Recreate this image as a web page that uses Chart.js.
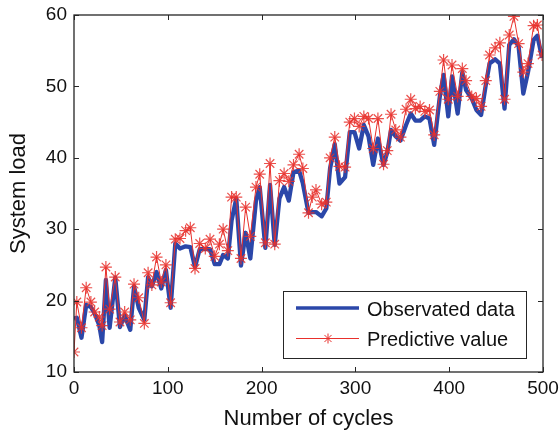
<!DOCTYPE html>
<html>
<head>
<meta charset="utf-8">
<script src="https://cdn.jsdelivr.net/npm/chart.js@4.4.1/dist/chart.umd.min.js"></script>
<style>
  body { margin: 0; background: #fff; }
  #wrap { width: 559px; height: 433px; }
</style>
</head>
<body>
<div id="wrap"><canvas id="myChart" width="559" height="433"></canvas></div>
<script>
// values
const cycles = [
  0, 3, 8, 13, 18, 22, 27, 30, 34, 38, 44, 49, 54, 60, 64, 69, 75, 79, 83, 88, 93, 98, 103, 108, 113, 119,
  124, 129, 134, 140, 145, 150, 155, 159, 164, 168, 173, 178, 183, 188, 194, 198, 204, 209, 214, 219, 224, 229, 234, 240, 244, 250,
  254, 258, 264, 269, 273, 278, 283, 289, 294, 299, 304, 309, 314, 319, 324, 330, 334, 338, 343, 348, 354, 359, 364, 369, 374,
  379, 384, 390, 394, 399, 403, 409, 414, 418, 424, 429, 434, 439, 443, 449, 454, 459, 464, 469, 474, 479, 484, 490, 494, 499
];
const observed = [
  17.5, 17.6, 14.8, 19.4, 19.1, 18.2, 16.5, 14.2, 22.9, 16.2, 23.2, 16.3, 17.9, 15.9, 22.0, 19.0, 17.3, 23.3, 22.0, 24.0, 21.7, 24.3, 19.0, 28.0, 27.3, 27.6,
  27.5, 24.7, 27.2, 27.2, 27.2, 25.1, 25.1, 26.4, 25.9, 31.2, 34.3, 24.9, 29.5, 25.9, 34.0, 35.9, 27.4, 36.2, 27.8, 34.3, 35.9, 34.0, 38.0, 38.2, 36.4, 32.3,
  32.4, 32.4, 31.8, 32.9, 38.5, 41.9, 36.4, 37.3, 43.6, 43.6, 41.3, 44.6, 43.0, 39.0, 42.7, 39.0, 40.8, 43.9, 43.0, 42.4, 44.6, 46.2, 45.2, 45.2, 45.8,
  45.5, 41.8, 48.6, 51.6, 45.8, 51.4, 46.2, 52.0, 49.5, 48.3, 46.7, 46.0, 50.2, 53.2, 53.8, 53.2, 46.9, 55.8, 56.6, 55.6, 49.0, 52.0, 56.5, 57.1, 54.0
];
const predictive = [
  12.8, 19.8, 16.2, 21.8, 19.8, 18.4, 17.7, 16.5, 24.7, 18.8, 23.3, 17.0, 18.4, 17.3, 22.3, 20.4, 16.8, 23.9, 22.2, 26.1, 22.6, 25.0, 19.7, 28.6, 28.7, 29.8,
  30.2, 24.5, 28.0, 27.3, 28.6, 26.2, 27.9, 30.0, 27.0, 34.5, 34.5, 25.9, 33.1, 29.0, 35.9, 37.7, 28.1, 39.2, 27.9, 36.8, 37.8, 36.7, 39.0, 40.5, 38.5, 32.3,
  34.5, 35.5, 33.5, 33.8, 40.0, 42.9, 38.8, 38.7, 45.0, 45.5, 44.4, 45.8, 45.5, 41.3, 45.5, 39.1, 41.0, 46.1, 43.9, 42.9, 46.8, 48.2, 46.9, 47.2, 46.5,
  46.7, 43.2, 49.3, 53.7, 48.2, 53.0, 48.6, 52.5, 50.8, 48.6, 48.3, 47.2, 50.8, 54.4, 55.4, 56.1, 48.2, 57.2, 59.8, 56.0, 52.0, 53.2, 58.5, 58.6, 54.4
];
const xTicks = [0, 100, 200, 300, 400, 500];
const yTicks = [10, 20, 30, 40, 50, 60];
const seriesNames = ['Observated data', 'Predictive value'];

const BLUE = '#2b47a9';
const RED = '#e8302c';
const FONT = '"Liberation Sans", Arial, Helvetica, sans-serif';

Chart.defaults.font.family = FONT;
Chart.defaults.color = '#111';

// MATLAB-like box with inward ticks on all four sides
const boxPlugin = {
  id: 'box',
  afterDatasetsDraw(chart) {
    const {ctx, chartArea: a, scales} = chart;
    ctx.save();
    ctx.strokeStyle = '#262626';
    ctx.lineWidth = 1.3;
    ctx.strokeRect(a.left, a.top, a.right - a.left, a.bottom - a.top);
    ctx.lineWidth = 1;
    ctx.beginPath();
    xTicks.forEach(v => {
      const px = Math.round(scales.x.getPixelForValue(v)) + 0.5;
      ctx.moveTo(px, a.bottom); ctx.lineTo(px, a.bottom - 5);
      ctx.moveTo(px, a.top); ctx.lineTo(px, a.top + 5);
    });
    yTicks.forEach(v => {
      const py = Math.round(scales.y.getPixelForValue(v)) + 0.5;
      ctx.moveTo(a.left, py); ctx.lineTo(a.left + 5, py);
      ctx.moveTo(a.right, py); ctx.lineTo(a.right - 5, py);
    });
    ctx.stroke();
    ctx.restore();
  }
};

// legend box inside the plot, lower right
const legendPlugin = {
  id: 'insideLegend',
  afterDraw(chart) {
    const {ctx} = chart;
    const bx = 283, by = 291, bw = 243, bh = 67;
    ctx.save();
    ctx.fillStyle = '#fff';
    ctx.fillRect(bx, by, bw, bh);
    ctx.strokeStyle = '#262626';
    ctx.lineWidth = 1;
    ctx.strokeRect(bx + 0.5, by + 0.5, bw, bh);

    ctx.lineCap = 'butt';
    ctx.strokeStyle = BLUE;
    ctx.lineWidth = 3.5;
    ctx.beginPath(); ctx.moveTo(296, 308); ctx.lineTo(359, 308); ctx.stroke();

    ctx.strokeStyle = RED;
    ctx.lineWidth = 1;
    ctx.beginPath(); ctx.moveTo(296, 338.5); ctx.lineTo(359, 338.5); ctx.stroke();
    Chart.helpers.drawPoint(ctx, {pointStyle: 'star', radius: 5, borderWidth: 1, rotation: 0}, 328, 338.5);

    ctx.fillStyle = '#111';
    ctx.font = '20px ' + FONT;
    ctx.textBaseline = 'alphabetic';
    ctx.fillText(seriesNames[0], 367, 316);
    ctx.fillText(seriesNames[1], 367, 346);
    ctx.restore();
  }
};

const ctx = document.getElementById('myChart').getContext('2d');
new Chart(ctx, {
  type: 'line',
  data: {
    datasets: [{
      label: seriesNames[1],
      data: cycles.map((c, i) => ({x: c, y: predictive[i]})),
      borderColor: RED,
      borderWidth: 1,
      pointStyle: 'star',
      pointRadius: 6,
      pointBorderWidth: 1.2,
      pointBorderColor: 'rgba(232,48,44,0.85)',
      pointBackgroundColor: RED,
      tension: 0,
      order: 0
    }, {
      label: seriesNames[0],
      data: cycles.map((c, i) => ({x: c, y: observed[i]})),
      borderColor: BLUE,
      borderWidth: 4.3,
      borderJoinStyle: 'round',
      pointRadius: 0,
      tension: 0,
      order: 1
    }]
  },
  options: {
    responsive: false,
    animation: false,
    events: [],
    layout: {padding: {top: 15, right: 16, left: 0, bottom: 0}},
    plugins: {legend: {display: false}, tooltip: {enabled: false}},
    scales: {
      x: {
        type: 'linear', min: 0, max: 500,
        afterBuildTicks: s => { s.ticks = xTicks.map(v => ({value: v})); },
        afterFit: s => { s.height = 61; s.paddingLeft = 0; s.paddingRight = 0; },
        grid: {display: false, drawTicks: false},
        border: {display: false},
        ticks: {padding: 5, font: {size: 19}, color: '#111', maxRotation: 0},
        title: {display: true, text: 'Number of cycles', font: {size: 22}, color: '#111', padding: {top: 0, bottom: 1}}
      },
      y: {
        type: 'linear', min: 10, max: 60,
        afterBuildTicks: s => { s.ticks = yTicks.map(v => ({value: v})); },
        afterFit: s => { s.width = 74; s.paddingTop = 0; s.paddingBottom = 0; },
        grid: {display: false, drawTicks: false},
        border: {display: false},
        ticks: {padding: 7, font: {size: 19}, color: '#111'},
        title: {display: true, text: 'System load', font: {size: 22}, color: '#111', padding: {top: 6, bottom: 0}}
      }
    }
  },
  plugins: [boxPlugin, legendPlugin]
});
</script>
</body>
</html>
